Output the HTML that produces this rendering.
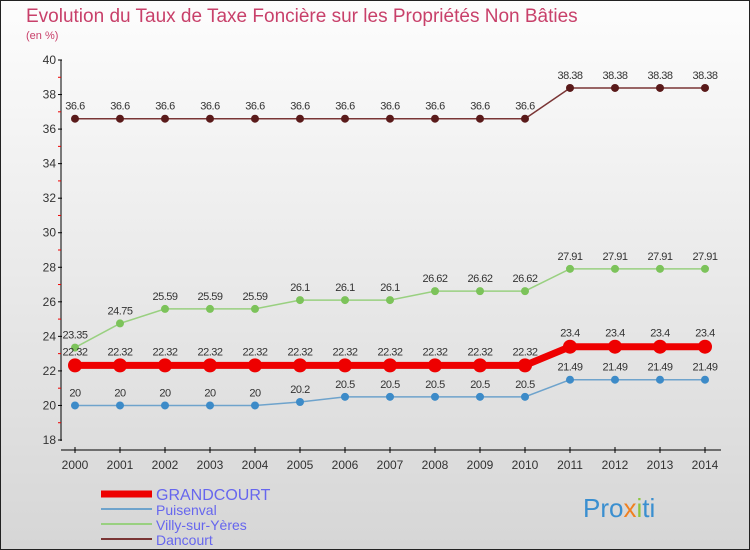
<!DOCTYPE html>
<html><head><meta charset="utf-8"><style>
body{margin:0}
#c{width:748px;height:548px;border:1px solid #222;background:linear-gradient(#fdfdfd,#d6d6d6);position:relative;font-family:"Liberation Sans",sans-serif;overflow:hidden}
</style></head><body>
<div id="c">
<svg id="s" width="748" height="548">
<text x="25" y="21" font-size="19" fill="#c8406a">Evolution du Taux de Taxe Foncière sur les Propriétés Non Bâties</text>
<text x="25" y="38" font-size="11" fill="#c8406a">(en %)</text>
<g id="g"></g>
</svg>
</div>
<script>
const years=[2000,2001,2002,2003,2004,2005,2006,2007,2008,2009,2010,2011,2012,2013,2014];
const yTicks=[18,20,22,24,26,28,30,32,34,36,38,40];
const dancourt=[36.6,36.6,36.6,36.6,36.6,36.6,36.6,36.6,36.6,36.6,36.6,38.38,38.38,38.38,38.38];
const villy=[23.35,24.75,25.59,25.59,25.59,26.1,26.1,26.1,26.62,26.62,26.62,27.91,27.91,27.91,27.91];
const grandcourt=[22.32,22.32,22.32,22.32,22.32,22.32,22.32,22.32,22.32,22.32,22.32,23.4,23.4,23.4,23.4];
const puisenval=[20,20,20,20,20,20.2,20.5,20.5,20.5,20.5,20.5,21.49,21.49,21.49,21.49];
const series=[
 {name:"Dancourt",vals:dancourt,color:"#7a3535",dot:"#5a1a1a",w:1.5,r:4},
 {name:"Villy-sur-Yères",vals:villy,color:"#99d080",dot:"#7cc35a",w:1.5,r:4},
 {name:"GRANDCOURT",vals:grandcourt,color:"#ee0000",dot:"#ee0000",w:7,r:7},
 {name:"Puisenval",vals:puisenval,color:"#6ea3cc",dot:"#3d8bc8",w:1.5,r:4}
];
const NS="http://www.w3.org/2000/svg";
const g=document.getElementById('g');
function X(i){return 74+i*45;}
function Y(v){return 439-(v-18)*(380/22);}
function mk(t,a,p){const e=document.createElementNS(NS,t);for(const k in a)e.setAttribute(k,a[k]);(p||g).appendChild(e);return e;}
let ya=mk('line',{x1:60,y1:59,x2:60,y2:440,stroke:'#000'});


let xa=mk('line',{x1:60,y1:449,x2:720,y2:449,stroke:'#000'});


yTicks.forEach(v=>{
 mk('line',{x1:57,y1:Y(v),x2:61,y2:Y(v),stroke:'#000'});
 if(v<40)mk('line',{x1:57,y1:Y(v+1),x2:60,y2:Y(v+1),stroke:'#e00'});
 let t=mk('text',{x:55,y:Y(v)+4,'font-size':12,'text-anchor':'end',fill:'#333'});
 t.textContent=v;
 
 
});
years.forEach((y,i)=>{
 mk('line',{x1:X(i),y1:446,x2:X(i),y2:452,stroke:'#000'});
 let t=mk('text',{x:X(i),y:468,'font-size':12,'text-anchor':'middle',fill:'#333'});
 t.textContent=y;
 
 
});
series.forEach(s=>{
 let pts=s.vals.map((v,i)=>X(i)+','+Y(v)).join(' ');
 let pl=mk('polyline',{points:pts,fill:'none',stroke:s.color,'stroke-width':s.w});
 
 
 s.vals.forEach((v,i)=>{
  let c=mk('circle',{cx:X(i),cy:Y(v),r:s.r,fill:s.dot});
  
  
  let t=mk('text',{x:X(i),y:Y(v)-(s.w>5?10:9),'font-size':11,'text-anchor':'middle',fill:'#333','letter-spacing':'-0.5'});
  t.textContent=v;
  
  
 });
});
const leg=[["GRANDCOURT","#ee0000",7,16],["Puisenval","#6ea3cc",2,14],["Villy-sur-Yères","#99d080",2,14],["Dancourt","#7a3535",2,14]];
leg.forEach((l,i)=>{
 let y=493+i*15;
 let ln=mk('line',{x1:100,y1:y,x2:151,y2:y,stroke:l[1],'stroke-width':l[2]});
 
 
 let t=mk('text',{x:155,y:y+6,'font-size':l[3],fill:'#6666ee'});
 t.textContent=l[0];
 
 
});
let lg=mk('text',{x:582,y:516,'font-size':26,fill:'#3a8fd0'});
lg.innerHTML='Pro<tspan fill="#f08020">x</tspan><tspan fill="#8cc63f">i</tspan>ti';


</script>
</body></html>
